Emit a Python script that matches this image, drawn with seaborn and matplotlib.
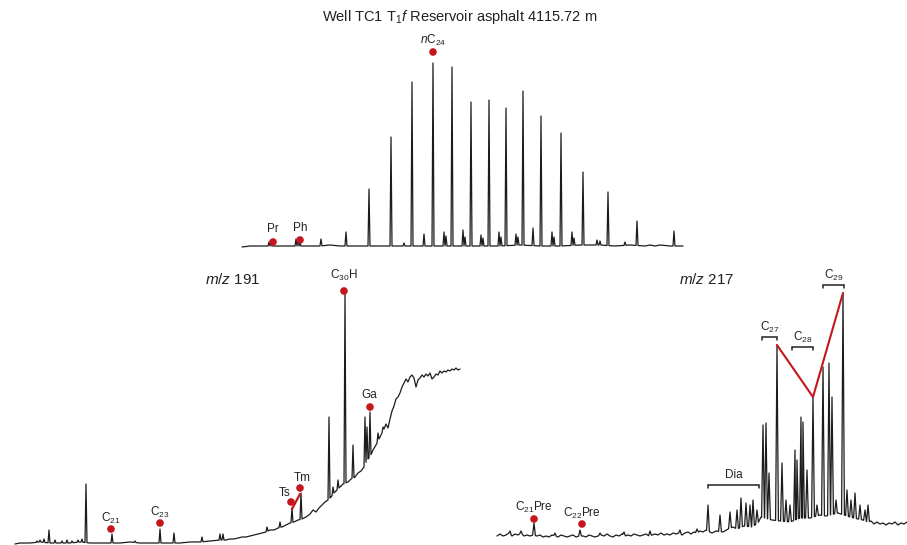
import numpy as np
import matplotlib
matplotlib.use("Agg")
import matplotlib.pyplot as plt
import seaborn as sns

sns.set_theme(style="white")
plt.rcParams["font.family"] = ["Liberation Sans", "DejaVu Sans"]
plt.rcParams["mathtext.fontset"] = "custom"
plt.rcParams["mathtext.rm"] = "Liberation Sans"
plt.rcParams["mathtext.it"] = "Liberation Sans:italic"
plt.rcParams["mathtext.bf"] = "Liberation Sans:bold"

# ---------------- data ----------------
title = r"Well TC1 T$_1$$\mathit{f}$ Reservoir asphalt 4115.72 m"

# TIC (whole oil) chromatogram
tic_base_x = [242, 250, 260, 270, 280, 290, 300, 310, 320, 330, 340, 350, 360, 380, 400, 420,
              440, 460, 480, 500, 520, 540, 560, 580, 600, 615, 630, 645, 650, 655, 660, 670, 683]
tic_base_y = [3, 4, 4, 4, 4, 4, 4, 4, 4, 5, 4, 4, 4, 4, 4, 4,
              4, 4, 4, 4, 5, 4, 4, 5, 5, 4, 5, 4, 5, 4, 5, 4, 4]
tic_peak_x = [269, 271, 296, 298, 300, 321, 346, 369, 391, 404, 412, 424, 433, 444, 446, 452,
              463, 465, 471, 481, 483, 489, 499, 501, 506, 516, 518, 523, 533, 541, 552, 554,
              561, 572, 574, 583, 597, 600, 608, 625, 637, 674]
tic_peak_h = [8, 7, 11, 12, 7, 11, 18, 61, 113, 7, 168, 16, 187, 18, 14, 183,
              20, 13, 148, 15, 12, 150, 18, 13, 142, 16, 13, 159, 22, 134, 18, 13,
              117, 18, 12, 78, 10, 9, 58, 8, 29, 19]
tic_labels = ["Pr", "Ph", r"$\mathit{n}$C$_{24}$"]
tic_label_peaks = [269, 300, 433]

# m/z 191
m191_base_x = [15, 20, 30, 40, 50, 60, 70, 80, 90, 100, 110, 120, 130, 140, 150, 160, 170, 180,
               190, 200, 210, 220, 226, 230, 234, 238, 242, 246, 250, 254, 258, 262, 266, 270,
               274, 278, 282, 286, 290, 294, 298, 302, 306, 310, 313, 316, 319, 322, 325, 328,
               331, 334, 337, 340, 343, 348, 351, 355, 358, 361, 364, 367, 370, 373, 376, 379,
               382, 384, 386, 388, 390, 392, 394, 396, 398, 400, 402, 404, 406, 408, 410, 412,
               414, 416, 418, 420, 422, 424, 426, 428, 430, 432, 434, 436, 438, 440, 442, 444,
               446, 448, 450, 452, 454, 456, 458, 460]
m191_base_y = [1, 2, 2, 3, 2, 2, 2, 3, 2, 2, 2, 2, 3, 2, 2, 2, 2, 2,
               3, 3, 4, 5, 5, 6, 6, 7, 8, 8, 9, 10, 11, 12, 13, 15,
               15, 17, 18, 20, 22, 23, 25, 26, 28, 31, 35, 33, 37, 40, 43, 45,
               48, 52, 55, 58, 61, 63, 66, 68, 72, 74, 78, 85, 88, 95, 100, 106,
               112, 116, 121, 117, 126, 134, 139, 146, 148, 152, 158, 162, 166, 163, 168, 170,
               167, 158, 165, 167, 170, 168, 171, 169, 172, 166, 168, 171, 170, 174, 172, 174,
               173, 175, 174, 176, 175, 177, 175, 176]
m191_peak_x = [37, 40, 44, 49, 55, 62, 67, 72, 78, 82, 86, 112, 135, 160, 174, 202, 220, 223,
               267, 280, 292, 301, 329, 333, 338, 341, 345, 353, 365, 367, 370, 378, 383]
m191_peak_h = [4, 5, 6, 15, 5, 4, 5, 4, 5, 6, 61, 11, 4, 16, 12, 8, 11, 11,
               18, 23, 37, 52, 128, 58, 65, 59, 253, 100, 128, 118, 133, 112, 118]
m191_labels = [r"C$_{21}$", r"C$_{23}$", "Ts", "Tm", r"C$_{30}$H", "Ga"]
m191_label_peaks = [112, 160, 292, 301, 345, 370]

# m/z 217
m217_base_x = [497, 500, 503, 506, 509, 512, 515, 518, 521, 524, 527, 530, 533, 537, 540, 543,
               546, 549, 552, 555, 558, 561, 564, 567, 570, 573, 576, 579, 583, 586, 589, 592,
               595, 598, 601, 604, 607, 610, 613, 616, 619, 622, 625, 628, 631, 634, 637, 640,
               643, 646, 649, 652, 655, 658, 661, 664, 667, 670, 673, 676, 679, 682, 685, 688,
               691, 694, 697, 700, 703, 706, 712, 716, 723, 728, 733, 737, 744, 752, 758, 761,
               772, 780, 790, 800, 810, 820, 826, 838, 850, 858, 863, 868, 871, 874, 877, 880,
               883, 886, 889, 892, 895, 898, 901, 904, 907]
m217_base_y = [9, 11, 9, 10, 12, 9, 11, 10, 12, 9, 10, 9, 10, 9, 10, 8,
               9, 8, 10, 9, 8, 10, 9, 8, 9, 10, 8, 9, 9, 8, 10, 9,
               8, 9, 10, 9, 11, 9, 8, 10, 9, 11, 9, 10, 9, 11, 10, 9,
               10, 11, 9, 10, 11, 10, 12, 10, 11, 10, 12, 11, 12, 10, 12, 13,
               11, 13, 12, 14, 13, 15, 12, 14, 13, 16, 18, 16, 19, 18, 22, 28,
               25, 24, 23, 27, 27, 30, 29, 32, 28, 26, 25, 23, 24, 21, 23, 21,
               22, 20, 22, 21, 23, 20, 22, 21, 23]
m217_peak_x = [510, 521, 534, 555, 580, 600, 624, 650, 680, 697, 708, 720, 730, 737, 741, 746,
               750, 753, 757, 763, 766, 769, 777, 782, 786, 790, 795, 797, 801, 803, 807, 813,
               817, 823, 829, 832, 836, 843, 847, 851, 855, 860, 865, 868]
m217_peak_h = [14, 14, 22, 12, 15, 12, 13, 14, 15, 16, 40, 30, 33, 35, 47, 42,
               40, 45, 35, 120, 122, 72, 200, 82, 45, 40, 95, 85, 128, 123, 75, 148,
               40, 178, 182, 148, 45, 252, 55, 45, 52, 40, 35, 40]
m217_dot_labels = [r"C$_{21}$Pre", r"C$_{22}$Pre"]
m217_dot_peaks = [534, 580]
m217_groups = ["Dia", r"C$_{27}$", r"C$_{28}$", r"C$_{29}$"]
m217_group_peaks = [777, 813, 843]   # C27, C28, C29 regular steranes

RED = "#C4161C"
LINE = "#1c1c1c"


def build_trace(bx, by, px, ph, w):
    bx = np.asarray(bx, float)
    by = np.asarray(by, float)
    pts = []
    for x, y in zip(bx, by):
        if not any(abs(x - p) <= w for p in px):
            pts.append((x, y))
    for x, h in zip(px, ph):
        pts.append((x - w, np.interp(x - w, bx, by)))
        pts.append((x, h))
        pts.append((x + w, np.interp(x + w, bx, by)))
    pts.sort(key=lambda t: t[0])
    a = np.array(pts)
    return a[:, 0], a[:, 1]


W, H = 907, 545
fig = plt.figure(figsize=(W / 100, H / 100), dpi=100)


def panel(left, top, right, bottom):
    ax = fig.add_axes([left / W, 1 - bottom / H, (right - left) / W, (bottom - top) / H])
    ax.set_xlim(left, right)
    ax.set_ylim(0, bottom - top)
    ax.axis("off")
    return ax


def dot(ax, x, y):
    sns.scatterplot(x=[x], y=[y], ax=ax, color=RED, s=30, edgecolor="none",
                    legend=False, zorder=5, clip_on=False)


def label(ax, x, y, s, size=8.5):
    ax.text(x, y, s, ha="center", va="center", fontsize=size, color="#222222", clip_on=False)


def peak_h(px, ph, x):
    return ph[list(px).index(x)]


# ---------------- title ----------------
fig.text(460 / W, 1 - 17 / H, title, ha="center", va="center", fontsize=10.5, color="#222222")

# ---------------- TIC ----------------
ax1 = panel(230, 30, 700, 250)
tx, ty = build_trace(tic_base_x, tic_base_y, tic_peak_x, tic_peak_h, 1.0)
sns.lineplot(x=tx, y=ty, ax=ax1, color=LINE, lw=0.9, sort=False, estimator=None)
for s, p, dx, dy, ly in zip(tic_labels, tic_label_peaks, [273, 300, 433], [8, 10, 198],
                            [21, 22, 210]):
    dot(ax1, dx, dy)
    label(ax1, dx, ly, s)

# ---------------- m/z 191 ----------------
ax2 = panel(0, 260, 470, 545)
x2, y2 = build_trace(m191_base_x, m191_base_y, m191_peak_x, m191_peak_h, 1.0)
sns.lineplot(x=x2, y=y2, ax=ax2, color=LINE, lw=0.9, sort=False, estimator=None)
ax2.text(233, 545 - 279, r"$\mathit{m/z}$ 191", ha="center", va="center", fontsize=11,
         color="#222222")
pos191 = [(111, 16, 111, 27), (160, 22, 160, 33), (291, 43, 285, 52),
          (300, 57, 302, 67), (344, 254, 344, 270), (370, 138, 369, 150)]
for s, p, (dx, dy, lx, ly) in zip(m191_labels, m191_label_peaks, pos191):
    dot(ax2, dx, dy)
    label(ax2, lx, ly, s)
# Ts/Tm connection
ts_h = peak_h(m191_peak_x, m191_peak_h, 292)
tm_h = peak_h(m191_peak_x, m191_peak_h, 301)
sns.lineplot(x=[292, 300], y=[ts_h - 1, tm_h - 1], ax=ax2, color=RED, lw=1.6,
             sort=False, estimator=None)

# ---------------- m/z 217 ----------------
ax3 = panel(490, 260, 907, 545)
x3, y3 = build_trace(m217_base_x, m217_base_y, m217_peak_x, m217_peak_h, 1.4)
sns.lineplot(x=x3, y=y3, ax=ax3, color=LINE, lw=0.9, sort=False, estimator=None)
ax3.text(707, 545 - 279, r"$\mathit{m/z}$ 217", ha="center", va="center", fontsize=11,
         color="#222222")
for s, p, (dx, dy, ly) in zip(m217_dot_labels, m217_dot_peaks, [(534, 26, 38), (582, 21, 32)]):
    dot(ax3, dx, dy)
    label(ax3, dx, ly, s)
# sterane trend line (C27 -> C28 -> C29)
gx = m217_group_peaks
gy = [peak_h(m217_peak_x, m217_peak_h, p) for p in gx]
sns.lineplot(x=gx, y=gy, ax=ax3, color=RED, lw=1.5, sort=False, estimator=None)
# brackets
brackets = [(708, 759, 60, "Dia"), (762, 777, 208, r"C$_{27}$"),
            (792, 813, 198, r"C$_{28}$"), (823, 844, 260, r"C$_{29}$")]
for x0, x1, yb, s in brackets:
    ax3.plot([x0, x0, x1, x1], [yb - 3, yb, yb, yb - 3], color="#222222", lw=1.1,
             solid_joinstyle="miter", clip_on=False)
    label(ax3, (x0 + x1) / 2, yb + 10, s)

fig.savefig("out.png", dpi=100)
